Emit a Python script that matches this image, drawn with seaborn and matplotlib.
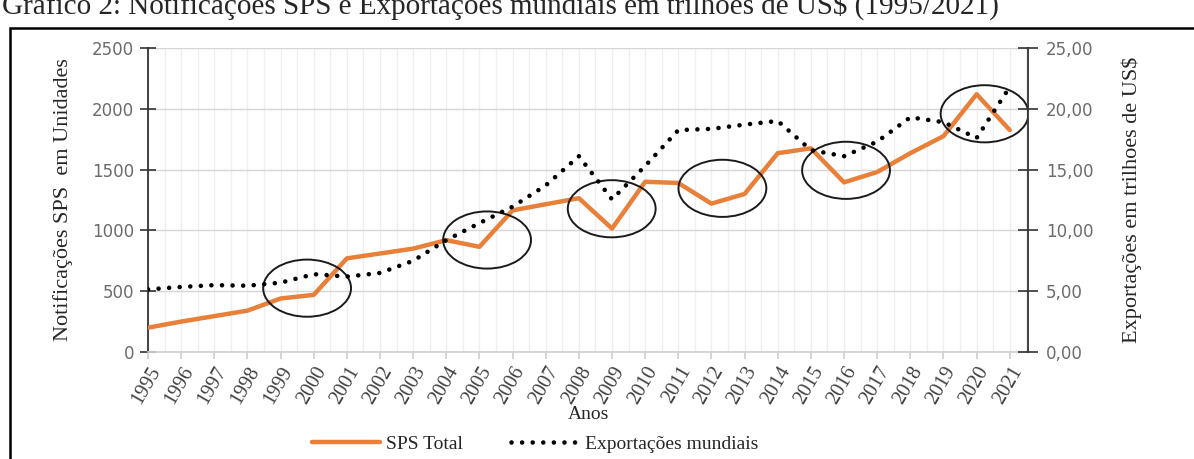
import numpy as np
import pandas as pd
import seaborn as sns
import matplotlib.pyplot as plt
from matplotlib.patches import Ellipse, Rectangle
from matplotlib.ticker import FuncFormatter, MultipleLocator

# dados
years = list(range(1995, 2022))
sps_total = [200, 250, 295, 340, 440, 470, 770, 810, 850, 920, 865, 1165, 1215,
             1265, 1015, 1400, 1390, 1220, 1300, 1635, 1675, 1395, 1480, 1635,
             1775, 2120, 1825]
exports = [5.15, 5.35, 5.50, 5.45, 5.70, 6.40, 6.20, 6.50, 7.50, 9.20, 10.60,
           11.95, 13.70, 16.10, 12.55, 15.30, 18.25, 18.35, 18.70, 19.00, 16.60,
           16.10, 17.30, 19.30, 18.90, 17.60, 21.80]

# destaques (ano, notificacoes) marcados com elipses
circle_years = [1999.8, 2005.23, 2008.99, 2012.33, 2016.06, 2020.24]
circle_sps = [525, 921, 1178, 1346, 1494, 1959]

df = pd.DataFrame({"ano": years, "sps": sps_total, "exp": exports})

sns.set_theme(style="white")
serif = ["Liberation Serif", "DejaVu Serif"]
plt.rcParams["font.family"] = ["DejaVu Sans"]

fig = plt.figure(figsize=(11.94, 4.59), dpi=100)
ax = fig.add_axes([148 / 1194, 107 / 459, 880 / 1194, 304 / 459])
ax2 = ax.twinx()

orange = "#E8803A"
sns.lineplot(data=df, x="ano", y="sps", ax=ax, color=orange, linewidth=3.2,
             label="SPS Total", legend=False, zorder=3)
sns.lineplot(data=df, x="ano", y="exp", ax=ax2, color="black", linewidth=3.3,
             label="Exportações mundiais", legend=False, zorder=3)
dot_line = ax2.get_lines()[0]
dot_line.set_linestyle((0, (0.01, 2.3)))
dot_line.set_dash_capstyle("round")

ax.set_xlim(1995, 2021.55)
ax.set_ylim(0, 2500)
ax2.set_ylim(0, 25)
ax.yaxis.set_major_locator(MultipleLocator(500))
ax2.yaxis.set_major_locator(MultipleLocator(5))
ax2.yaxis.set_major_formatter(FuncFormatter(lambda v, p: f"{v:.2f}".replace(".", ",")))

ax.set_xticks(years)
ax.set_xticklabels([str(y) for y in years], rotation=60, ha="right",
                   rotation_mode="anchor", family=serif, fontsize=14.5, color="#404040")
ax.xaxis.set_minor_locator(MultipleLocator(0.5))

# grades
ax.grid(axis="y", color="#d6d6d6", linewidth=1.0)
ax.grid(axis="x", which="both", color="#efefef", linewidth=0.9)
ax.set_axisbelow(True)

for s in ["top", "right"]:
    ax.spines[s].set_visible(False)
for s in ["top", "left", "bottom"]:
    ax2.spines[s].set_visible(False)
ax.spines["left"].set_color("#333333")
ax.spines["left"].set_linewidth(1.3)
ax.spines["bottom"].set_color("#d0d0d0")
ax2.spines["right"].set_color("#333333")
ax2.spines["right"].set_linewidth(1.3)

ax.tick_params(axis="y", direction="inout", length=12, width=1.2, color="#333333",
               labelsize=12, labelcolor="#6b6b6b", pad=4, left=True)
ax2.tick_params(axis="y", direction="inout", length=14, width=1.2, color="#333333",
                labelsize=12, labelcolor="#6b6b6b", pad=6, right=True)
ax.tick_params(axis="x", which="major", direction="out", length=5, color="#cfcfcf",
               pad=3, bottom=True)
ax.tick_params(axis="x", which="minor", length=0)

ax.set_xlabel("Anos", family=serif, fontsize=14, labelpad=-1)
ax.set_ylabel("Notificações SPS  em Unidades", family=serif, fontsize=16, labelpad=14)
ax2.set_ylabel("Exportações em trilhoes de US$", family=serif, fontsize=16, labelpad=20)

# elipses de destaque
for cy, cs in zip(circle_years, circle_sps):
    ax.add_patch(Ellipse((cy, cs), width=2.65, height=470, fill=False,
                         edgecolor="#1a1a1a", linewidth=1.4, zorder=5))

# legenda
h1 = ax.get_lines()[0]
fig.legend([h1, dot_line], ["SPS Total", "Exportações mundiais"], loc="center",
           bbox_to_anchor=(535 / 1194, 15 / 459), ncol=2, frameon=False,
           prop={"family": serif, "size": 14}, handlelength=3.5, columnspacing=2.5,
           handletextpad=0.3)

# moldura e titulo
fig.patches.append(Rectangle((10 / 1194, -0.2), 1.2, 1 - 28 / 459 + 0.2,
                             transform=fig.transFigure, fill=False,
                             edgecolor="black", linewidth=1.8))
fig.text(0.002, 1 - 14 / 459,
         "Gráfico 2: Notificações SPS e Exportações mundiais em trilhões de US$ (1995/2021)",
         family=serif, fontsize=21, va="baseline", ha="left")

fig.savefig("out.png", dpi=100)
